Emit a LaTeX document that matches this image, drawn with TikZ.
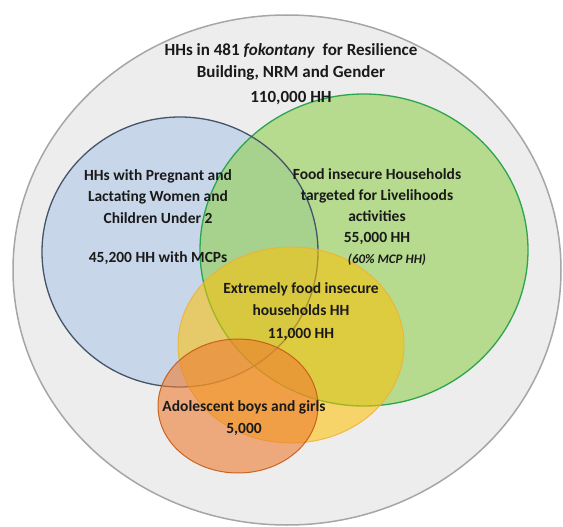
\documentclass[tikz,border=0pt]{standalone}
\usepackage{fontspec}
\setmainfont{Carlito}
\definecolor{outerfill}{HTML}{EDEDED}
\definecolor{outerline}{HTML}{A6A6A6}
\definecolor{bluefill}{HTML}{C8D6E9}
\definecolor{blueline}{HTML}{44546A}
\definecolor{greenfill}{HTML}{92D050}
\definecolor{greenline}{HTML}{2DA44E}
\definecolor{yellowfill}{HTML}{FFC000}
\definecolor{yellowline}{HTML}{F0B030}
\definecolor{orangefill}{HTML}{ED7D31}
\definecolor{orangeline}{HTML}{C55A11}
\definecolor{txt}{HTML}{1A1A1A}
\tikzset{
  lbl/.style={align=center, font=\fontsize{15.5}{21.5}\selectfont\bfseries, text=txt, inner sep=0pt},
}
\begin{document}
\begin{tikzpicture}[x=1pt,y=-1pt]
\useasboundingbox (0,0) rectangle (563,527);
% outer
\draw[fill=outerfill, draw=outerline, line width=1.5pt] (287,270) ellipse [x radius=274pt, y radius=255pt];
% blue
\fill[bluefill] (180,252) ellipse [x radius=138pt, y radius=135pt];
% green
\draw[fill=greenfill, fill opacity=0.6, draw=greenline, line width=1.3pt] (364,250) ellipse [x radius=164pt, y radius=156pt];
% blue border
\draw[blueline, line width=1.3pt] (180,252) ellipse [x radius=138pt, y radius=135pt];
% yellow
\draw[fill=yellowfill, fill opacity=0.55, draw=yellowline, draw opacity=0.8, line width=1pt] (291,345) ellipse [x radius=113pt, y radius=98pt];
% orange
\draw[fill=orangefill, fill opacity=0.6, draw=orangeline, draw opacity=0.9, line width=1pt] (238,406) ellipse [x radius=80pt, y radius=67pt];
% texts
\node[lbl, font=\fontsize{17}{22.5}\selectfont\bfseries] (title) at (291,74) {HHs in 481 \textit{fokontany}\ \ for Resilience\\Building, NRM and Gender\\[2pt]110,000 HH};
\node[lbl] (plw) at (158,217) {HHs with Pregnant and\\Lactating Women and\\Children Under 2\\[18pt]45,200 HH with MCPs};
\node[lbl, font=\fontsize{15.5}{20.8}\selectfont\bfseries] (fi) at (377,217) {Food insecure Households\\targeted for Livelihoods\\activities\\55,000 HH\hspace*{9pt}\\\hspace*{20pt}{\fontsize{13}{20}\selectfont\itshape (60\% MCP HH)}};
\node[lbl] (efi) at (301,312) {Extremely food insecure\\households HH\\[2pt]11,000 HH};
\node[lbl] (ado) at (244,418) {Adolescent boys and girls\\5,000};
\end{tikzpicture}
\end{document}
